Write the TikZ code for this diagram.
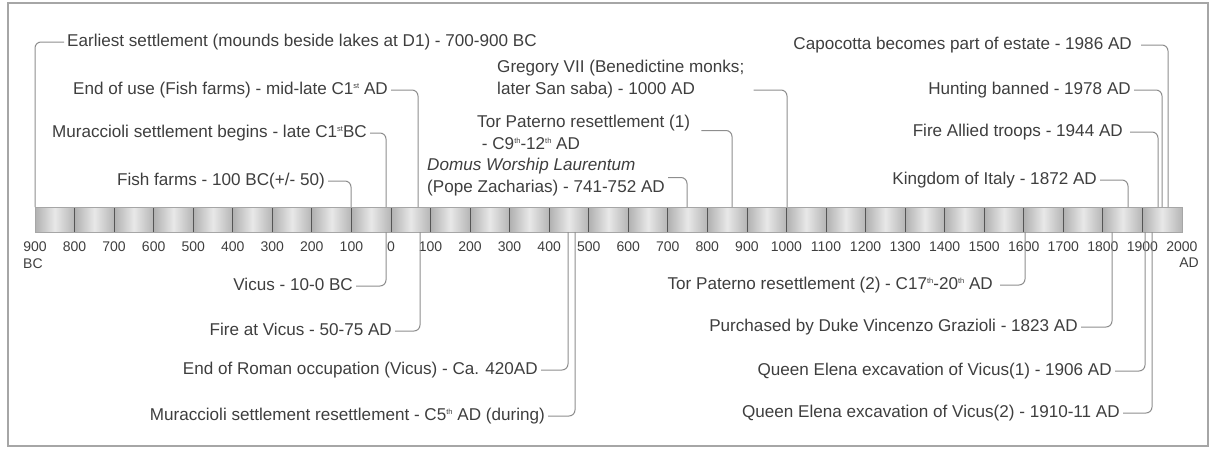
\documentclass[tikz,border=0pt]{standalone}
\usepackage{fontspec}
\setmainfont{Liberation Sans}
\definecolor{txt}{HTML}{3E3E3E}
\definecolor{lin}{HTML}{8E8E8E}
\definecolor{frm}{HTML}{A6A6A6}
\definecolor{cellline}{HTML}{555555}
\newcommand\supsm[1]{\raisebox{6pt}{\fontsize{7.5}{8}\selectfont #1}}
\begin{document}
\begin{tikzpicture}[x=1pt,y=-1pt,
  font=\fontsize{17.1}{22}\selectfont,
  lbl/.style={inner sep=3pt, text=txt, text height=12.5pt, text depth=3.5pt},
  lbltwo/.style={inner sep=3pt, text=txt, align=left},
  conn/.style={draw=lin, line width=1pt, rounded corners=6pt},
  ticklbl/.style={font=\fontsize{14}{16}\selectfont, text=txt, inner sep=0pt},
  cellshade/.style={left color=gray!62, right color=gray!58, middle color=gray!18}]
\useasboundingbox (0,0) rectangle (1211,450);
% frame
\draw[frm, line width=1.2pt] (8,3) rectangle (1208,446);
% bar
\foreach \i in {0,...,28}{
  \shade[cellshade] ({35+\i*39.55},207) rectangle ({35+(\i+1)*39.55},232);
}
\foreach \i in {1,...,28}{
  \draw[cellline, line width=0.8pt] ({35+\i*39.55},207) -- ({35+\i*39.55},232);
}
\draw[gray!70, line width=0.8pt] (35,207) rectangle (1182,232);
% tick labels
\foreach \v [count=\i from 0] in {900,800,700,600,500,400,300,200,100,0,100,200,300,400,500,600,700,800,900,1000,1100,1200,1300,1400,1500,1600,1700,1800,1900,2000}{
  \node[ticklbl] (tk\i) at ({35+\i*39.55},247) {\v};
}
\node[ticklbl, anchor=west] (bc) at (23,264) {BC};
\node[ticklbl, anchor=east] (ad) at (1199,263) {AD};

% bar anchor points
\coordinate (b1) at (35,207);
\coordinate (b2) at (418,207);
\coordinate (b3) at (386,207);
\coordinate (b4) at (351,207);
\coordinate (b5) at (787,207);
\coordinate (b6) at (732,207);
\coordinate (b7) at (687,207);
\coordinate (b8) at (1168,207);
\coordinate (b9) at (1162,207);
\coordinate (b10) at (1158,207);
\coordinate (b11) at (1128,207);
\coordinate (c12) at (386,232);
\coordinate (c13) at (420,232);
\coordinate (c14) at (568,232);
\coordinate (c15) at (575,232);
\coordinate (c16) at (1025,232);
\coordinate (c17) at (1112,232);
\coordinate (c18) at (1145,232);
\coordinate (c19) at (1152,232);

% top labels
\node[lbl, anchor=west] (l1) at (64,42) {Earliest settlement (mounds beside lakes at D1) - 700-900 BC};
\node[lbl, anchor=east] (l2) at (391,90) {End of use (Fish farms) - mid-late C1\supsm{st} AD};
\node[lbl, anchor=east] (l3) at (370,133) {Muraccioli settlement begins - late C1\supsm{st}BC};
\node[lbl, anchor=east] (l4) at (328,181) {Fish farms - 100 BC(+/- 50)};
\node[lbltwo, anchor=west] (l5) at (494,79) {Gregory VII (Benedictine monks;\\later San saba) - 1000 AD};
\node[lbltwo, anchor=west] (l6) at (474,132.5) {Tor Paterno resettlement (1)\\\ - C9\supsm{th}-12\supsm{th} AD};
\node[lbltwo, anchor=west] (l7) at (424,177.5) {\itshape Domus Worship Laurentum\\(Pope Zacharias) - 741-752 AD};
\node[lbl, anchor=east] (l8) at (1135,45) {Capocotta becomes part of estate - 1986 AD};
\node[lbl, anchor=east] (l9) at (1134,90) {Hunting banned - 1978 AD};
\node[lbl, anchor=east] (l10) at (1126,132) {Fire Allied troops - 1944 AD};
\node[lbl, anchor=east] (l11) at (1100,180) {Kingdom of Italy - 1872 AD};

\draw[conn] (l1.west) -| (b1);
\draw[conn] (l2.east) -| (b2);
\draw[conn] (l3.east) -| (b3);
\draw[conn] (l4.east) -| (b4);
\draw[conn] ([xshift=6pt,yshift=-11pt]l5.east) -| (b5);
\draw[conn] ([xshift=8pt,yshift=2pt]l6.east) -| (b6);
\draw[conn] (l7.east) -| (b7);
\draw[conn] ([xshift=6pt]l8.east) -| (b8);
\draw[conn] (l9.east) -| (b9);
\draw[conn] ([xshift=4pt]l10.east) -| (b10);
\draw[conn] (l11.east) -| (b11);

% bottom labels
\node[lbl, anchor=east] (l12) at (356,286) {Vicus - 10-0 BC};
\node[lbl, anchor=east] (l13) at (395,331) {Fire at Vicus - 50-75 AD};
\node[lbl, anchor=east] (l14) at (541,370) {End of Roman occupation (Vicus) - Ca. 420AD};
\node[lbl, anchor=east] (l15) at (548,416) {Muraccioli settlement resettlement - C5\supsm{th} AD (during)};
\node[lbl, anchor=east] (l16) at (996,285) {Tor Paterno resettlement (2) - C17\supsm{th}-20\supsm{th} AD};
\node[lbl, anchor=east] (l17) at (1081,327) {Purchased by Duke Vincenzo Grazioli - 1823 AD};
\node[lbl, anchor=east] (l18) at (1115,371) {Queen Elena excavation of Vicus(1) - 1906 AD};
\node[lbl, anchor=east] (l19) at (1123,413) {Queen Elena excavation of Vicus(2) - 1910-11 AD};

\draw[conn] (l12.east) -| (c12);
\draw[conn] (l13.east) -| (c13);
\draw[conn] (l14.east) -| (c14);
\draw[conn] (l15.east) -| (c15);
\draw[conn] ([xshift=4pt]l16.east) -| (c16);
\draw[conn] (l17.east) -| (c17);
\draw[conn] (l18.east) -| (c18);
\draw[conn] (l19.east) -| (c19);
\end{tikzpicture}
\end{document}
